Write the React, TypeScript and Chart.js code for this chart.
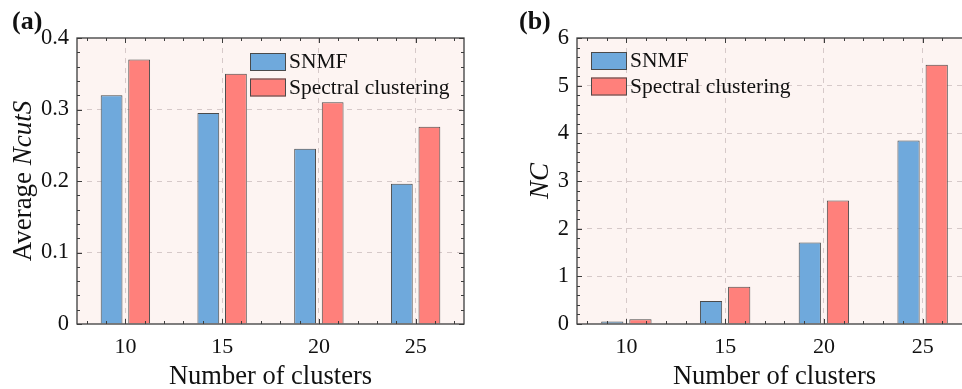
import React, { useEffect, useRef } from 'react';
import { Chart, registerables } from 'chart.js';

Chart.register(...registerables);

// ---- data ----
const clusterCounts = [10, 15, 20, 25];
const seriesNames = ['SNMF', 'Spectral clustering'];
const ncutsSNMF = [0.32, 0.295, 0.245, 0.196];
const ncutsSpectral = [0.37, 0.35, 0.31, 0.276];
const ncSNMF = [0.05, 0.48, 1.71, 3.85];
const ncSpectral = [0.1, 0.78, 2.59, 5.44];
const ncutsTicks = [0, 0.1, 0.2, 0.3, 0.4];
const ncTicks = [0, 1, 2, 3, 4, 5, 6];

const FONT = "'Liberation Serif', 'Times New Roman', serif";
const BLUE = '#6fa9dc';
const RED = '#ff807b';
const BAR_BORDER = '#4a4a4a';
const PLOT_BG = '#fdf4f2';
const GRID = '#d6c9c9';
const FRAME = '#3c3c3c';
const TEXT = '#111111';

type PanelCfg = {
  tag: string;
  tagX: number;
  xs: number[];
  a: number[];
  b: number[];
  yTicks: number[];
  yMinorStep: number;
  yTitle: { parts: { text: string; italic: boolean }[]; cx: number };
  legend: { x: number; y: number };
  width: number;
  padRight: number;
  yWidth: number;
};

const bgPlugin = {
  id: 'plotBg',
  beforeDraw(chart: any) {
    const { ctx, chartArea } = chart;
    ctx.save();
    ctx.fillStyle = PLOT_BG;
    ctx.fillRect(chartArea.left, chartArea.top, chartArea.right - chartArea.left, chartArea.bottom - chartArea.top);
    ctx.restore();
  },
};

function makeDecorPlugin(cfg: PanelCfg) {
  return {
    id: 'decor',
    afterDraw(chart: any) {
      const { ctx, chartArea } = chart;
      const xs = chart.scales.x;
      const ys = chart.scales.y;
      const { left, right, top, bottom } = chartArea;
      ctx.save();
      // frame
      ctx.strokeStyle = FRAME;
      ctx.lineWidth = 1.3;
      ctx.strokeRect(left, top, right - left, bottom - top);
      // tick marks (inward, all sides)
      ctx.lineWidth = 1;
      const xMinStep = 1;
      const kx0 = Math.ceil(xs.min / xMinStep);
      const kx1 = Math.floor(xs.max / xMinStep);
      for (let k = kx0; k <= kx1; k++) {
        const v = k * xMinStep;
        const major = k % 5 === 0;
        const len = major ? 5 : 3;
        const p = Math.round(xs.getPixelForValue(v)) + 0.5;
        ctx.beginPath();
        ctx.moveTo(p, bottom);
        ctx.lineTo(p, bottom - len);
        ctx.moveTo(p, top);
        ctx.lineTo(p, top + len);
        ctx.stroke();
      }
      const st = cfg.yMinorStep;
      const ky0 = Math.ceil(ys.min / st - 1e-9);
      const ky1 = Math.floor(ys.max / st + 1e-9);
      const majorEvery = Math.round((cfg.yTicks[1] - cfg.yTicks[0]) / st);
      for (let k = ky0; k <= ky1; k++) {
        const v = k * st;
        const major = k % majorEvery === 0;
        const len = major ? 5 : 3;
        const p = Math.round(ys.getPixelForValue(v)) + 0.5;
        ctx.beginPath();
        ctx.moveTo(left, p);
        ctx.lineTo(left + len, p);
        ctx.moveTo(right, p);
        ctx.lineTo(right - len, p);
        ctx.stroke();
      }
      // panel tag
      ctx.fillStyle = TEXT;
      ctx.font = `bold 26px ${FONT}`;
      ctx.textBaseline = 'alphabetic';
      ctx.textAlign = 'left';
      ctx.fillText(cfg.tag, cfg.tagX, 29);
      // y title (mixed styles)
      const parts = cfg.yTitle.parts;
      const fontFor = (it: boolean) => `${it ? 'italic ' : ''}27px ${FONT}`;
      let total = 0;
      const widths = parts.map((p) => {
        ctx.font = fontFor(p.italic);
        const w = ctx.measureText(p.text).width;
        total += w;
        return w;
      });
      ctx.translate(cfg.yTitle.cx, (top + bottom) / 2);
      ctx.rotate(-Math.PI / 2);
      ctx.textBaseline = 'middle';
      let x = -total / 2;
      parts.forEach((p, i) => {
        ctx.font = fontFor(p.italic);
        ctx.fillText(p.text, x, 0);
        x += widths[i];
      });
      ctx.setTransform(1, 0, 0, 1, 0, 0);
      // legend
      const ds = chart.data.datasets;
      ctx.font = `21.5px ${FONT}`;
      ctx.textBaseline = 'middle';
      ds.forEach((d: any, i: number) => {
        const y0 = cfg.legend.y + i * 25.5;
        ctx.fillStyle = d.backgroundColor;
        ctx.fillRect(cfg.legend.x, y0, 36, 18);
        ctx.strokeStyle = BAR_BORDER;
        ctx.lineWidth = 1;
        ctx.strokeRect(cfg.legend.x + 0.5, y0 + 0.5, 35, 17);
        ctx.fillStyle = TEXT;
        ctx.fillText(d.label, cfg.legend.x + 39, y0 + 9.5);
      });
      ctx.restore();
    },
  };
}

function Panel({ cfg, left }: { cfg: PanelCfg; left: number }) {
  const ref = useRef<HTMLCanvasElement | null>(null);
  useEffect(() => {
    if (!ref.current) return;
    const yMax = cfg.yTicks[cfg.yTicks.length - 1];
    const chart = new Chart(ref.current, {
      type: 'bar',
      data: {
        datasets: [
          {
            label: seriesNames[0],
            data: cfg.xs.map((x, i) => ({ x, y: cfg.a[i] })),
            backgroundColor: BLUE,
            borderColor: BAR_BORDER,
            borderWidth: 1,
            categoryPercentage: 0.57,
            barPercentage: 0.79,
          },
          {
            label: seriesNames[1],
            data: cfg.xs.map((x, i) => ({ x, y: cfg.b[i] })),
            backgroundColor: RED,
            borderColor: BAR_BORDER,
            borderWidth: 1,
            categoryPercentage: 0.57,
            barPercentage: 0.79,
          },
        ],
      } as any,
      options: {
        responsive: false,
        animation: false,
        layout: { padding: { left: 0, top: 38, right: cfg.padRight, bottom: 0 } },
        plugins: { legend: { display: false }, tooltip: { enabled: false } },
        scales: {
          x: {
            type: 'linear',
            min: 7.5,
            max: 27.5,
            offset: false,
            afterBuildTicks: (s: any) => {
              s.ticks = cfg.xs.map((v) => ({ value: v }));
            },
            afterFit: (s: any) => {
              s.height = 65;
            },
            grid: { drawTicks: false, color: GRID, lineWidth: 1, offset: false },
            border: { display: false, dash: [5, 5] },
            ticks: {
              font: { family: FONT, size: 22 },
              color: TEXT,
              padding: 10,
              maxRotation: 0,
              autoSkip: false,
              callback: (v: any) => String(v),
            },
            title: {
              display: true,
              text: 'Number of clusters',
              font: { family: FONT, size: 26.5 },
              color: TEXT,
              padding: { top: 0, bottom: -4 },
            },
          },
          y: {
            min: 0,
            max: yMax,
            afterBuildTicks: (s: any) => {
              s.ticks = cfg.yTicks.map((v) => ({ value: v }));
            },
            afterFit: (s: any) => {
              s.width = cfg.yWidth;
            },
            grid: {
              drawTicks: false,
              lineWidth: 1,
              color: (c: any) => (c.tick && (c.tick.value === 0 || c.tick.value === yMax) ? 'rgba(0,0,0,0)' : GRID),
            },
            border: { display: false, dash: [5, 5] },
            ticks: {
              font: { family: FONT, size: 22.5 },
              color: TEXT,
              padding: 8,
              autoSkip: false,
              callback: (v: any) => String(v),
            },
          },
        },
      } as any,
      plugins: [bgPlugin, makeDecorPlugin(cfg)],
    });
    return () => chart.destroy();
  }, [cfg]);
  return (
    <canvas
      ref={ref}
      width={cfg.width}
      height={389}
      style={{ position: 'absolute', left, top: 0, width: cfg.width, height: 389 }}
    />
  );
}

const panelA: PanelCfg = {
  tag: '(a)',
  tagX: 12,
  xs: clusterCounts,
  a: ncutsSNMF,
  b: ncutsSpectral,
  yTicks: ncutsTicks,
  yMinorStep: 0.02,
  yTitle: { parts: [{ text: 'Average ', italic: false }, { text: 'NcutS', italic: true }], cx: 24 },
  legend: { x: 250, y: 53 },
  width: 480,
  padRight: 16,
  yWidth: 77,
};

const panelB: PanelCfg = {
  tag: '(b)',
  tagX: 39,
  xs: clusterCounts,
  a: ncSNMF,
  b: ncSpectral,
  yTicks: ncTicks,
  yMinorStep: 0.2,
  yTitle: { parts: [{ text: 'NC', italic: true }], cx: 61 },
  legend: { x: 111, y: 52 },
  width: 500,
  padRight: 8,
  yWidth: 97,
};

export default function App() {
  return (
    <div
      style={{
        position: 'fixed',
        left: 0,
        top: 0,
        width: 962,
        height: 389,
        overflow: 'hidden',
        background: '#ffffff',
      }}
    >
      <Panel cfg={panelA} left={0} />
      <Panel cfg={panelB} left={480} />
    </div>
  );
}
